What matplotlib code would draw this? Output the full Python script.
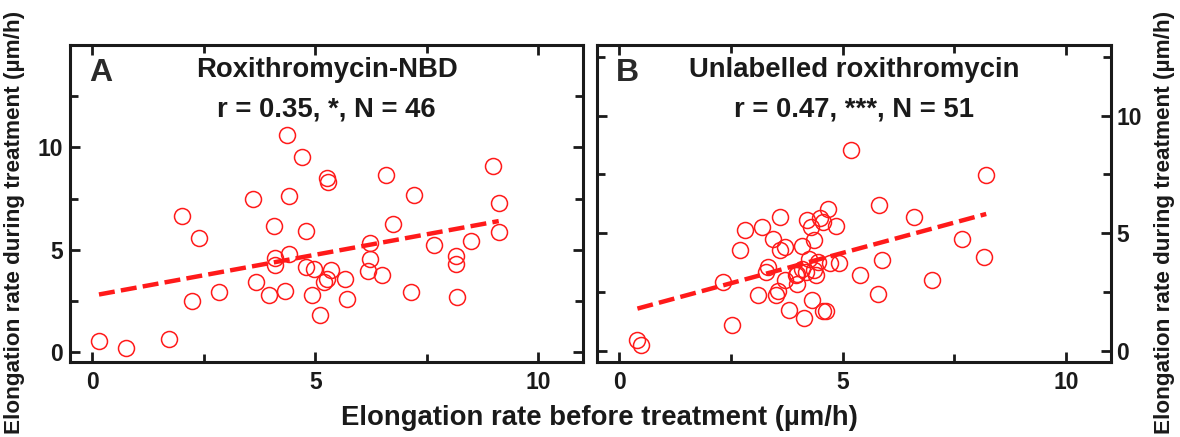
import matplotlib
matplotlib.use("Agg")
import matplotlib.pyplot as plt
import numpy as np
from matplotlib.ticker import MultipleLocator, FixedLocator

plt.rcParams['font.family'] = ['Liberation Sans', 'DejaVu Sans']
plt.rcParams['font.weight'] = 'bold'

# Panel A: Roxithromycin-NBD (before, during)
nbd_before = [0.15, 0.76, 1.72, 2.02, 2.39, 2.23, 2.84, 3.60, 3.66, 3.95,
              4.07, 4.10, 4.10, 4.37, 4.42, 4.40, 4.33, 4.70, 4.80, 4.78,
              4.96, 4.93, 5.11, 5.27, 5.28, 5.36, 5.27, 5.19, 5.67, 5.72,
              6.23, 6.23, 6.17, 6.49, 6.59, 6.73, 7.14, 7.20, 7.67, 8.16,
              8.16, 8.18, 8.48, 8.98, 9.11, 9.11]
nbd_during = [0.57, 0.20, 0.64, 6.63, 5.60, 2.49, 2.96, 7.46, 3.42, 2.80,
              6.17, 4.59, 4.27, 10.62, 7.61, 4.79, 3.00, 9.51, 5.91, 4.15,
              4.06, 2.80, 1.82, 8.50, 8.31, 4.01, 3.58, 3.45, 3.58, 2.59,
              5.34, 4.56, 3.97, 3.79, 8.63, 6.25, 2.96, 7.69, 5.24, 4.72,
              4.30, 2.69, 5.41, 9.10, 7.31, 5.86]
nbd_fit = (2.76, 0.40)  # intercept, slope

# Panel B: unlabelled roxithromycin
rox_before = [0.41, 0.50, 2.52, 2.32, 2.70, 2.82, 3.11, 3.19, 3.28, 3.32,
              3.44, 3.51, 3.55, 3.59, 3.59, 3.71, 3.71, 3.79, 3.96, 3.98,
              4.09, 4.13, 4.17, 4.21, 4.25, 4.29, 4.32, 4.36, 4.36, 4.40,
              4.44, 4.50, 4.56, 4.67, 4.56, 4.63, 4.71, 4.84, 4.92, 5.19,
              5.38, 5.79, 5.81, 5.88, 6.60, 6.99, 7.67, 8.17, 8.21, 4.08,
              3.98]
rox_during = [0.46, 0.26, 1.11, 2.92, 4.27, 5.13, 2.35, 5.27, 3.35, 3.56,
              4.74, 2.35, 2.56, 5.70, 4.30, 4.42, 2.99, 1.74, 3.21, 2.85,
              4.44, 1.38, 3.35, 5.56, 3.92, 5.27, 2.17, 4.70, 3.42, 3.21,
              3.77, 5.63, 5.48, 6.01, 1.71, 1.67, 3.73, 5.30, 3.73, 8.55,
              3.21, 2.42, 6.20, 3.87, 5.70, 3.02, 4.77, 3.99, 7.48, 3.49,
              3.28]
rox_fit = (1.58, 0.516)

major_ticks = [0, 5, 10]
minor_ticks = [2.5, 7.5, 12.5]

panels = [
    dict(x=nbd_before, y=nbd_during, fit=nbd_fit, letter='A',
         title='Roxithromycin-NBD', stats='r = 0.35, *, N = 46',
         ylim=(-0.5, 15), rect=[0.0593, 0.1705, 0.4348, 0.7265], right=False),
    dict(x=rox_before, y=rox_during, fit=rox_fit, letter='B',
         title='Unlabelled roxithromycin', stats='r = 0.47, ***, N = 51',
         ylim=(-0.5, 13), rect=[0.5057, 0.1705, 0.4358, 0.7265], right=True),
]

RED = '#ff1a1a'
INK = '#1a1a1a'

fig = plt.figure(figsize=(11.8, 4.37), dpi=100)

for p in panels:
    ax = fig.add_axes(p['rect'])
    x = np.array(p['x'])
    y = np.array(p['y'])
    ax.plot(x, y, 'o', ms=11.5, mfc='none', mec=RED, mew=1.1, zorder=3)

    b0, b1 = p['fit']
    fx = np.array([x.min(), x.max()])
    ax.plot(fx, b0 + b1 * fx, color=RED, lw=3.2, dashes=(3.6, 1.4),
            solid_capstyle='butt', zorder=2)

    ax.set_xlim(-0.5, 11)
    ax.set_ylim(*p['ylim'])
    ax.xaxis.set_major_locator(FixedLocator(major_ticks))
    ax.xaxis.set_minor_locator(FixedLocator(minor_ticks[:2]))
    ax.yaxis.set_major_locator(FixedLocator(major_ticks))
    ax.yaxis.set_minor_locator(FixedLocator(minor_ticks))
    ax.tick_params(which='both', direction='in', top=True, right=True,
                   width=2, colors=INK, labelsize=16.5)
    ax.tick_params(which='major', length=7)
    ax.tick_params(which='minor', length=6)
    ax.tick_params(axis='x', pad=6)
    if p['right']:
        ax.tick_params(axis='y', labelleft=False, labelright=True, pad=4)
    else:
        ax.tick_params(axis='y', pad=5)
    for lab in ax.get_xticklabels() + ax.get_yticklabels():
        lab.set_fontweight('bold')
    for s in ax.spines.values():
        s.set_linewidth(2.2)
        s.set_color(INK)

    ax.text(0.06, 0.912, p['letter'], transform=ax.transAxes, fontsize=23,
            fontweight='bold', color='#2a2a2a', ha='center', va='center')
    ax.text(0.5, 0.921, p['title'], transform=ax.transAxes, fontsize=19.8,
            fontweight='bold', color=INK, ha='center', va='center')
    ax.text(0.5, 0.798, p['stats'], transform=ax.transAxes, fontsize=19.8,
            fontweight='bold', color=INK, ha='center', va='center')

fig.text(0.508, 0.0435, 'Elongation rate before treatment (µm/h)',
         fontsize=19.8, fontweight='bold', color=INK, ha='center', va='center')
fig.text(0.012, 0.492, 'Elongation rate during treatment (µm/h)', rotation=90,
         fontsize=16.2, fontweight='bold', color=INK, ha='center', va='center')
fig.text(0.987, 0.492, 'Elongation rate during treatment (µm/h)', rotation=90,
         fontsize=16.2, fontweight='bold', color=INK, ha='center', va='center')

fig.savefig('out.png', dpi=100, facecolor='white')
